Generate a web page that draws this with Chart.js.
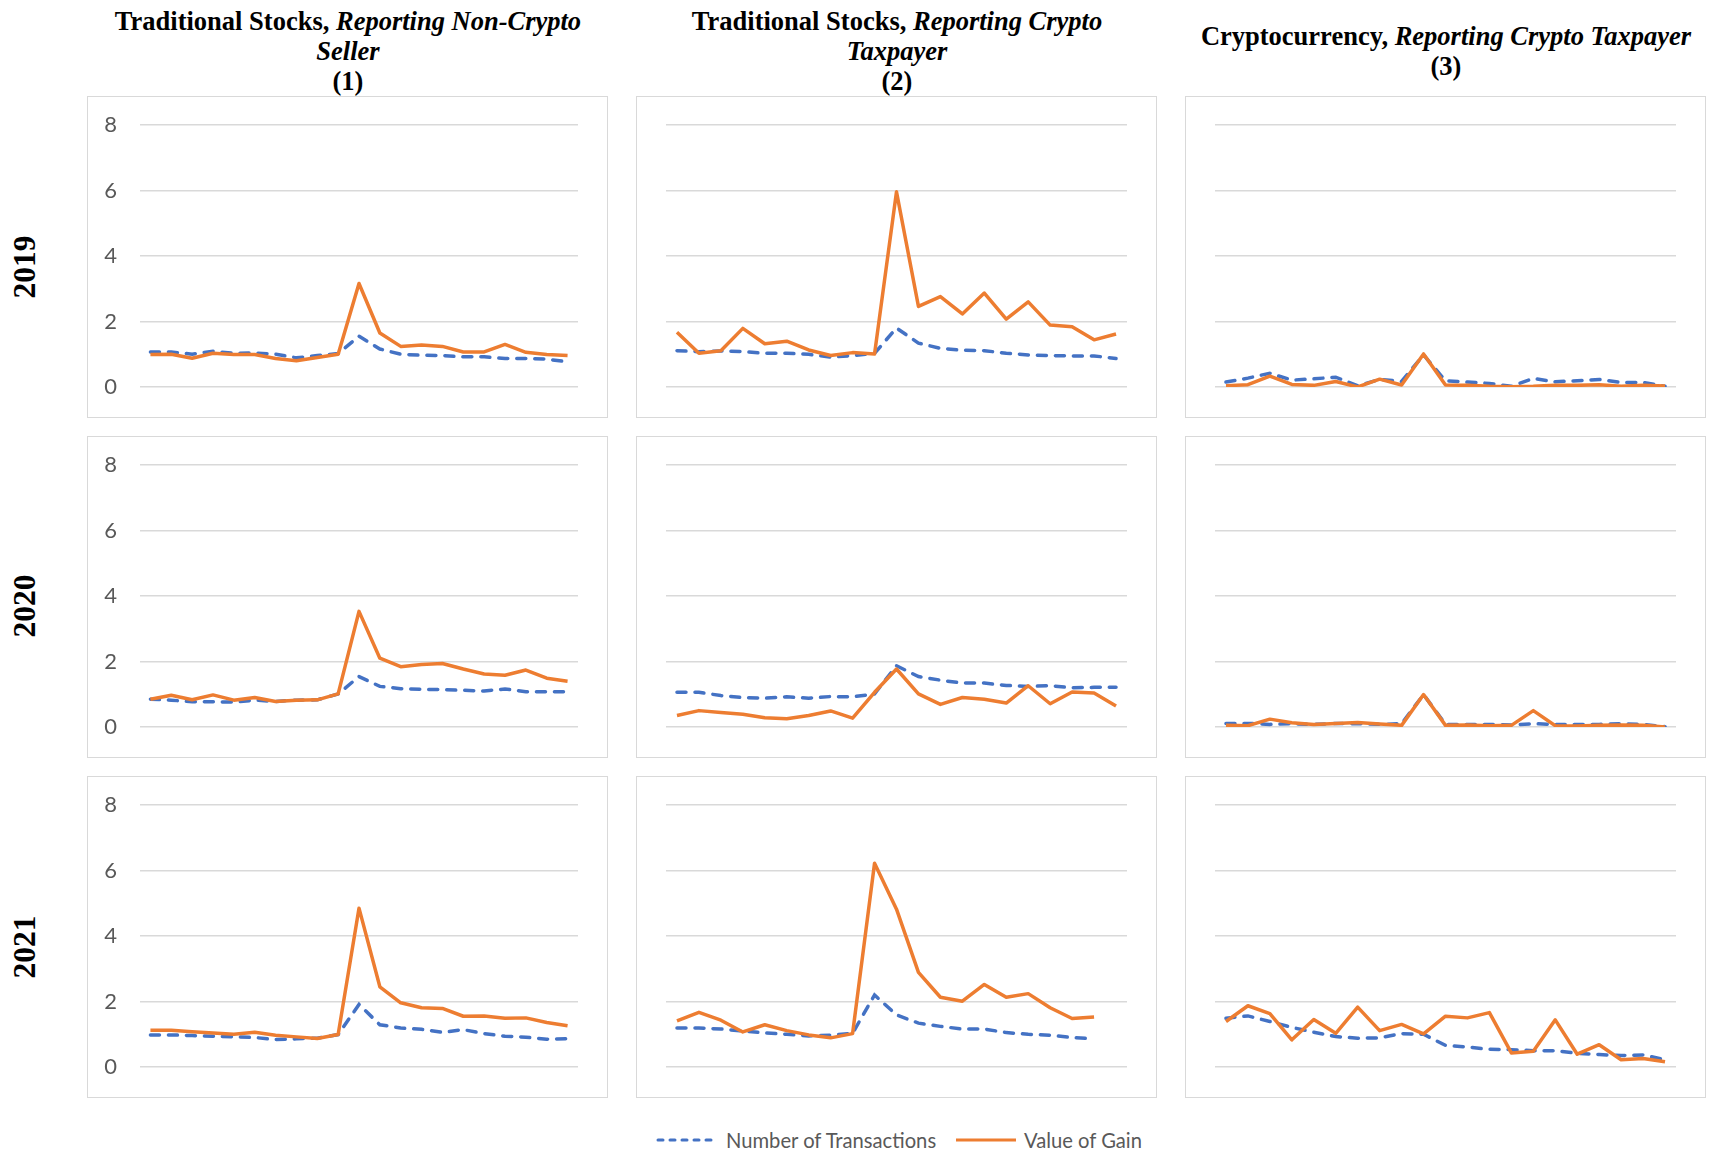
<!DOCTYPE html>
<html>
<head>
<meta charset="utf-8">
<script src="https://cdn.jsdelivr.net/npm/chart.js@4.4.0/dist/chart.umd.min.js"></script>
<style>
  body { margin: 0; background: #fff; }
  #page { position: relative; width: 1711px; height: 1153px; overflow: hidden; background: #fff; }
  .title {
    position: absolute; width: 600px; text-align: center;
    font-family: 'Liberation Serif', 'Times New Roman', serif;
    font-weight: bold; font-size: 26.5px; line-height: 30px; color: #000;
  }
  .year {
    position: absolute; white-space: nowrap;
    font-family: 'Liberation Serif', 'Times New Roman', serif;
    font-weight: bold; font-size: 31.5px; color: #000;
    transform: translate(-50%, -50%) rotate(-90deg);
  }
  .panel { position: absolute; width: 521px; height: 322px; border: 1px solid #d9d9d9; box-sizing: border-box; }
  .panel canvas { position: absolute; left: 0; top: 0; }
  .legend-text {
    position: absolute; top: 1127px; line-height: 26px;
    font-family: Lato, 'Open Sans', sans-serif; font-size: 20.2px; color: #595959; white-space: nowrap;
  }
  .legend-line { position: absolute; top: 1135px; }
</style>
</head>
<body>
<div id="page">
  <div class="title" style="left:48px; top:6px;">Traditional Stocks, <i>Reporting Non-Crypto</i><br><i>Seller</i><br>(1)</div>
  <div class="title" style="left:597px; top:6px;">Traditional Stocks, <i>Reporting Crypto</i><br><i>Taxpayer</i><br>(2)</div>
  <div class="title" style="left:1146px; top:21px;">Cryptocurrency, <i>Reporting Crypto Taxpayer</i><br>(3)</div>

  <div class="year" style="left:25px; top:267px;">2019</div>
  <div class="year" style="left:25px; top:606px;">2020</div>
  <div class="year" style="left:25px; top:947px;">2021</div>

  <div id="grid"></div>

  <svg class="legend-line" style="left:655px;" width="66" height="10">
    <line x1="3" y1="5" x2="63" y2="5" stroke="#4472C4" stroke-width="3" stroke-dasharray="5 7" stroke-linecap="round"/>
  </svg>
  <div class="legend-text" style="left:726px;">Number of Transactions</div>
  <svg class="legend-line" style="left:954px;" width="66" height="10">
    <line x1="2" y1="5" x2="62" y2="5" stroke="#ED7D31" stroke-width="3"/>
  </svg>
  <div class="legend-text" style="left:1024px;">Value of Gain</div>
</div>

<script>
// 21 periods per panel (x axis is unlabeled in the original)
const periods = ['1', '2', '3', '4', '5', '6', '7', '8', '9', '10', '11', '12', '13', '14', '15', '16', '17', '18', '19', '20', '21'];

// 2019
const txStocksNonCrypto2019 = [1.07, 1.07, 1.00, 1.09, 1.03, 1.04, 1.00, 0.89, 0.96, 1.02, 1.55, 1.16, 1.00, 0.97, 0.96, 0.92, 0.92, 0.87, 0.87, 0.85, 0.77];
const gainStocksNonCrypto2019 = [0.99, 1.00, 0.88, 1.03, 0.99, 0.99, 0.87, 0.80, 0.90, 1.00, 3.16, 1.65, 1.24, 1.28, 1.24, 1.07, 1.07, 1.30, 1.06, 0.99, 0.96];
const txStocksCrypto2019 = [1.11, 1.08, 1.10, 1.08, 1.03, 1.03, 1.00, 0.91, 0.96, 1.03, 1.80, 1.34, 1.18, 1.12, 1.11, 1.03, 0.98, 0.96, 0.95, 0.95, 0.87];
const gainStocksCrypto2019 = [1.67, 1.03, 1.11, 1.79, 1.32, 1.40, 1.13, 0.96, 1.05, 1.01, 5.96, 2.46, 2.76, 2.23, 2.87, 2.07, 2.60, 1.89, 1.84, 1.44, 1.62];
const txCrypto2019 = [0.15, 0.27, 0.42, 0.21, 0.25, 0.30, 0.04, 0.23, 0.17, 0.98, 0.19, 0.15, 0.11, 0.02, 0.26, 0.16, 0.19, 0.23, 0.14, 0.14, 0.02];
const gainCrypto2019 = [0.04, 0.07, 0.33, 0.08, 0.05, 0.17, 0.00, 0.24, 0.06, 1.01, 0.06, 0.05, 0.02, 0.01, 0.02, 0.05, 0.05, 0.07, 0.02, 0.05, 0.03];

// 2020
const txStocksNonCrypto2020 = [0.85, 0.82, 0.77, 0.77, 0.76, 0.82, 0.78, 0.82, 0.83, 1.01, 1.54, 1.24, 1.17, 1.15, 1.14, 1.12, 1.10, 1.16, 1.08, 1.08, 1.08];
const gainStocksNonCrypto2020 = [0.85, 0.97, 0.83, 0.98, 0.82, 0.90, 0.78, 0.82, 0.83, 1.01, 3.53, 2.10, 1.84, 1.91, 1.94, 1.77, 1.62, 1.58, 1.74, 1.49, 1.40];
const txStocksCrypto2020 = [1.06, 1.06, 0.96, 0.90, 0.88, 0.92, 0.88, 0.93, 0.92, 1.01, 1.87, 1.54, 1.43, 1.34, 1.34, 1.27, 1.24, 1.26, 1.20, 1.21, 1.21];
const gainStocksCrypto2020 = [0.35, 0.50, 0.44, 0.39, 0.28, 0.25, 0.35, 0.49, 0.27, 1.06, 1.77, 1.01, 0.69, 0.90, 0.85, 0.73, 1.26, 0.71, 1.07, 1.04, 0.64];
const txCrypto2020 = [0.11, 0.11, 0.08, 0.10, 0.08, 0.11, 0.10, 0.08, 0.10, 0.99, 0.08, 0.08, 0.08, 0.06, 0.10, 0.08, 0.08, 0.08, 0.10, 0.08, 0.01];
const gainCrypto2020 = [0.05, 0.04, 0.24, 0.13, 0.08, 0.11, 0.14, 0.09, 0.05, 0.99, 0.05, 0.06, 0.04, 0.05, 0.50, 0.04, 0.03, 0.05, 0.06, 0.05, 0.00];

// 2021
const txStocksNonCrypto2021 = [0.98, 0.98, 0.96, 0.94, 0.92, 0.90, 0.84, 0.86, 0.88, 0.99, 1.91, 1.29, 1.19, 1.15, 1.06, 1.14, 1.02, 0.94, 0.91, 0.85, 0.86];
const gainStocksNonCrypto2021 = [1.12, 1.12, 1.08, 1.04, 1.00, 1.06, 0.97, 0.92, 0.87, 0.99, 4.85, 2.45, 1.96, 1.81, 1.79, 1.55, 1.56, 1.49, 1.50, 1.36, 1.26];
const txStocksCrypto2021 = [1.19, 1.19, 1.16, 1.10, 1.04, 1.00, 0.95, 0.97, 1.03, 2.20, 1.59, 1.34, 1.24, 1.16, 1.16, 1.05, 1.00, 0.97, 0.90, 0.86, null];
const gainStocksCrypto2021 = [1.41, 1.67, 1.43, 1.07, 1.29, 1.11, 0.98, 0.89, 1.02, 6.22, 4.82, 2.89, 2.13, 2.01, 2.52, 2.13, 2.24, 1.81, 1.48, 1.53, null];
const txCrypto2021 = [1.49, 1.56, 1.39, 1.21, 1.06, 0.93, 0.88, 0.89, 1.02, 1.00, 0.66, 0.61, 0.54, 0.53, 0.50, 0.50, 0.42, 0.38, 0.35, 0.37, 0.22];
const gainCrypto2021 = [1.39, 1.87, 1.63, 0.83, 1.45, 1.03, 1.83, 1.11, 1.30, 1.01, 1.55, 1.50, 1.66, 0.43, 0.48, 1.44, 0.39, 0.68, 0.22, 0.26, 0.16];

const yTicks = [0, 2, 4, 6, 8];

const panels = [
  [txStocksNonCrypto2019, gainStocksNonCrypto2019], [txStocksCrypto2019, gainStocksCrypto2019], [txCrypto2019, gainCrypto2019],
  [txStocksNonCrypto2020, gainStocksNonCrypto2020], [txStocksCrypto2020, gainStocksCrypto2020], [txCrypto2020, gainCrypto2020],
  [txStocksNonCrypto2021, gainStocksNonCrypto2021], [txStocksCrypto2021, gainStocksCrypto2021], [txCrypto2021, gainCrypto2021]
];

const colLeft = [87, 636, 1185];
const rowTop = [96, 436, 776];
const grid = document.getElementById('grid');

panels.forEach(([tx, gain], i) => {
  const row = Math.floor(i / 3), col = i % 3;
  const box = document.createElement('div');
  box.className = 'panel';
  box.style.left = colLeft[col] + 'px';
  box.style.top = rowTop[row] + 'px';
  const canvas = document.createElement('canvas');
  canvas.width = 519;
  canvas.height = 320;
  box.appendChild(canvas);
  grid.appendChild(box);

  new Chart(canvas, {
    type: 'line',
    data: {
      labels: periods,
      datasets: [
        {
          label: 'Value of Gain', data: gain, order: 0,
          borderColor: '#ED7D31', borderWidth: 3.5, borderJoinStyle: 'round',
          pointRadius: 0, tension: 0
        },
        {
          label: 'Number of Transactions', data: tx, order: 1,
          borderColor: '#4472C4', borderWidth: 3.5, borderDash: [9, 9], borderCapStyle: 'round',
          pointRadius: 0, tension: 0
        }
      ]
    },
    options: {
      responsive: false,
      animation: false,
      layout: { padding: { left: 0, right: 29, top: 28, bottom: 30 } },
      plugins: { legend: { display: false }, tooltip: { enabled: false } },
      scales: {
        x: { display: false, offset: true },
        y: {
          min: 0, max: 8,
          afterBuildTicks: s => { s.ticks = yTicks.map(v => ({ value: v })); },
          afterFit: s => {
            s.width = col === 0 ? 52 : 29;
            s.paddingTop = 0;
            s.paddingBottom = 0;
          },
          ticks: {
            display: col === 0, padding: 23, color: '#595959',
            font: { family: 'Lato', size: 22 }
          },
          grid: { color: '#d9d9d9', lineWidth: 1.5, drawTicks: false },
          border: { display: false }
        }
      }
    }
  });
});
</script>
</body>
</html>
